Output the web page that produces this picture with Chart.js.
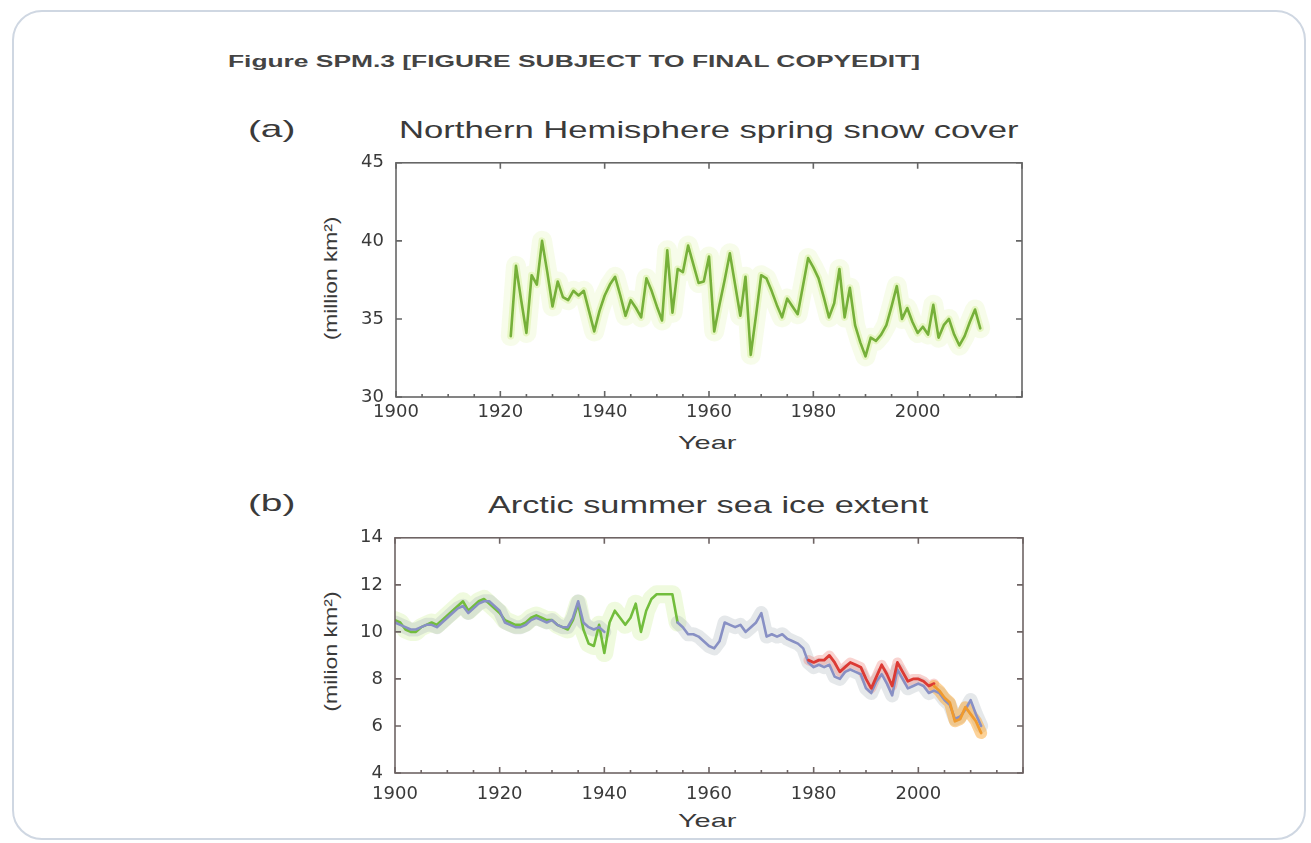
<!DOCTYPE html>
<html lang="en">
<head>
<meta charset="UTF-8">
<title>Figure SPM.3</title>
<script src="https://cdn.jsdelivr.net/npm/chart.js"></script>
<style>
    html, body {
        margin: 0;
        padding: 0;
        background: #fff;
        width: 1311px;
        height: 843px;
        overflow: hidden;
        font-family: "Liberation Sans", Arial, sans-serif;
        color: #3a3a3a;
    }
    .frame {
        position: absolute;
        left: 12px;
        top: 10px;
        width: 1290px;
        height: 826px;
        border: 2px solid #cfd7e2;
        border-radius: 30px;
    }
    .txt {
        position: absolute;
        white-space: nowrap;
        line-height: 1;
    }
    canvas {
        position: absolute;
    }
</style>
</head>
<body>
<div class="frame"></div>

<div class="txt" data-cx="574" data-cy="62" data-w="692" style="font-weight:bold;font-size:16px;color:#444">Figure SPM.3 [FIGURE SUBJECT TO FINAL COPYEDIT]</div>
<div class="txt" data-cx="271" data-cy="129" data-w="47" style="font-size:24px">(a)</div>
<div class="txt" data-cx="709" data-cy="130" data-w="620" style="font-size:24px">Northern Hemisphere spring snow cover</div>
<div class="txt" data-cx="330" data-cy="278" data-w="123" data-rot="1" style="font-size:19px">(million km²)</div>
<div class="txt" data-cx="707" data-cy="442" data-w="58" style="font-size:19px">Year</div>

<div class="txt" data-cx="271" data-cy="503" data-w="47" style="font-size:24px">(b)</div>
<div class="txt" data-cx="708" data-cy="505" data-w="440" style="font-size:24px">Arctic summer sea ice extent</div>
<div class="txt" data-cx="330" data-cy="651" data-w="120" data-rot="1" style="font-size:19px">(milion km²)</div>
<div class="txt" data-cx="707" data-cy="820" data-w="58" style="font-size:19px">Year</div>

<canvas id="snowChart" width="760" height="320" style="left:290px;top:140px"></canvas>
<canvas id="iceChart" width="760" height="320" style="left:290px;top:515px"></canvas>

<script>
    // tick labels
    const yearTicks = [1900, 1920, 1940, 1960, 1980, 2000];
    const snowTicks = [30, 35, 40, 45];
    const iceTicks = [4, 6, 8, 10, 12, 14];

    // (a) spring snow cover, one value per year from snowStart
    const snowStart = 1922;
    const snowCover = [
        33.9, 38.4, 36.2, 34.1, 37.8, 37.2, 40.0, 38.0, 35.8, 37.4,   // 1922-1931
        36.4, 36.2, 36.8, 36.5, 36.8, 35.5, 34.2, 35.5, 36.5, 37.2,   // 1932-1941
        37.7, 36.5, 35.2, 36.2, 35.7, 35.1, 37.6, 36.8, 35.8, 34.9,   // 1942-1951
        39.4, 35.4, 38.2, 38.0, 39.7, 38.5, 37.3, 37.4, 39.0, 34.2,   // 1952-1961
        35.9, 37.5, 39.2, 37.2, 35.2, 37.7, 32.7, 35.2, 37.8, 37.6,   // 1962-1971
        36.8, 35.9, 35.1, 36.3, 35.8, 35.3, 37.1, 38.9, 38.3, 37.6,   // 1972-1981
        36.4, 35.1, 36.0, 38.2, 35.1, 37.0, 34.6, 33.5, 32.6, 33.8,   // 1982-1991
        33.6, 34.0, 34.6, 35.8, 37.1, 35.0, 35.7, 34.8, 34.1, 34.5,   // 1992-2001
        34.0, 35.9, 33.8, 34.6, 35.0, 34.0, 33.3, 33.9, 34.8, 35.6,   // 2002-2011
        34.4                                                          // 2012
    ];

    // (b) sea ice extent, blue series 1900-2012 (gap where hidden under green)
    const blueStart = 1900;
    const iceBlue = [
        10.4, 10.3, 10.2, 10.1, 10.1, 10.2, 10.3, 10.3, 10.2, 10.4,   // 1900-1909
        10.6, 10.8, 11.0, 11.1, 10.8, 11.0, 11.2, 11.3, 11.3, 11.1,   // 1910-1919
        10.9, 10.4, 10.3, 10.2, 10.2, 10.3, 10.5, 10.6, 10.5, 10.4,   // 1920-1929
        10.5, 10.3, 10.2, 10.2, 10.6, 11.3, 10.4, 10.2, 10.1, 10.2,   // 1930-1939
        10.0, null, null, null, null, null, null, null, null, null,   // 1940-1949
        null, null, null, null, 10.4, 10.2, 9.9, 9.9, 9.8, 9.6,       // 1950-1959
        9.4, 9.3, 9.6, 10.4, 10.3, 10.2, 10.3, 10.0, 10.2, 10.4,      // 1960-1969
        10.8, 9.8, 9.9, 9.8, 9.9, 9.7, 9.6, 9.5, 9.3, 8.7,            // 1970-1979
        8.5, 8.6, 8.5, 8.6, 8.1, 8.0, 8.3, 8.4, 8.3, 8.2,             // 1980-1989
        7.6, 7.4, 7.9, 8.2, 7.8, 7.3, 8.4, 8.0, 7.6, 7.7,             // 1990-1999
        7.8, 7.7, 7.4, 7.5, 7.4, 7.1, 6.9, 6.3, 6.4, 6.7,             // 2000-2009
        7.1, 6.5, 6.0                                                 // 2010-2012
    ];

    const greenStart = 1900;
    const iceGreen = [
        10.5, 10.4, 10.1, 10.0, 10.0, 10.2, 10.3, 10.4, 10.3, 10.5,   // 1900-1909
        10.7, 10.9, 11.1, 11.3, 10.9, 11.1, 11.3, 11.4, 11.2, 11.0,   // 1910-1919
        10.8, 10.5, 10.4, 10.3, 10.3, 10.4, 10.6, 10.7, 10.6, 10.5,   // 1920-1929
        10.5, 10.3, 10.2, 10.1, 10.5, 11.2, 10.1, 9.5, 9.4, 10.3,     // 1930-1939
        9.1, 10.4, 10.9, 10.6, 10.3, 10.6, 11.2, 10.0, 10.9, 11.4,    // 1940-1949
        11.6, 11.6, 11.6, 11.6, 10.4                                  // 1950-1954
    ];

    const redStart = 1979;
    const iceRed = [
        8.8, 8.7, 8.8, 8.8, 9.0, 8.7, 8.3, 8.5, 8.7, 8.6,             // 1979-1988
        8.5, 8.0, 7.6, 8.1, 8.6, 8.2, 7.7, 8.7, 8.3, 7.9,             // 1989-1998
        8.0, 8.0, 7.9, 7.7, 7.8                                       // 1999-2003
    ];

    const orangeStart = 2003;
    const iceOrange = [7.7, 7.5, 7.2, 7.0, 6.2, 6.3, 6.8, 6.5, 6.2, 5.7];   // 2003-2012

    function toPoints(start, values) {
        return values.map((v, i) => ({ x: start + i, y: v }));
    }

    // stretch the html text to the widths in the figure
    document.querySelectorAll('.txt').forEach(el => {
        const cx = +el.dataset.cx, cy = +el.dataset.cy, w = +el.dataset.w;
        const w0 = el.offsetWidth, h0 = el.offsetHeight;
        el.style.left = (cx - w0 / 2) + 'px';
        el.style.top = (cy - h0 / 2) + 'px';
        const s = (w / w0).toFixed(3);
        el.style.transform = el.dataset.rot ? 'rotate(-90deg) scaleX(' + s + ')' : 'scaleX(' + s + ')';
    });

    // matlab style box with inward ticks
    const boxTicks = {
        id: 'boxTicks',
        afterDraw(chart, args, opts) {
            const { ctx, chartArea: a, scales: { x, y } } = chart;
            ctx.save();
            ctx.strokeStyle = opts.color;
            ctx.lineWidth = 1.6;
            ctx.strokeRect(a.left, a.top, a.width, a.height);
            ctx.beginPath();
            for (let v = x.min; v <= x.max; v += 5) {
                const px = x.getPixelForValue(v);
                const len = v % 20 === 0 ? 6 : 3;
                ctx.moveTo(px, a.bottom); ctx.lineTo(px, a.bottom - len);
                if (len === 6) { ctx.moveTo(px, a.top); ctx.lineTo(px, a.top + len); }
            }
            opts.yTicks.forEach(v => {
                const py = y.getPixelForValue(v);
                ctx.moveTo(a.left, py); ctx.lineTo(a.left + 6, py);
                ctx.moveTo(a.right, py); ctx.lineTo(a.right - 6, py);
            });
            ctx.stroke();
            ctx.restore();
        }
    };

    const tickFont = { family: 'DejaVu Sans', size: 18 };

    function makeOptions(yMin, yMax, yTicks, yWidth, xHeight, xPad, padTop, padRight, boxColor) {
        return {
            responsive: false,
            animation: false,
            layout: { padding: { top: padTop, right: padRight, left: 0, bottom: 0 } },
            plugins: {
                legend: { display: false },
                tooltip: { enabled: false },
                boxTicks: { yTicks: yTicks, color: boxColor }
            },
            elements: {
                point: { radius: 0 },
                line: { tension: 0, borderJoinStyle: 'round', borderCapStyle: 'round' }
            },
            scales: {
                x: {
                    type: 'linear',
                    min: 1900,
                    max: 2020,
                    grid: { display: false, drawTicks: false },
                    border: { display: false },
                    ticks: { color: '#3a3a3a', font: tickFont, padding: xPad, maxRotation: 0,
                             callback: v => String(v) },
                    afterBuildTicks: axis => { axis.ticks = yearTicks.map(v => ({ value: v })); },
                    afterFit: axis => { axis.height = xHeight; }
                },
                y: {
                    min: yMin,
                    max: yMax,
                    grid: { display: false, drawTicks: false },
                    border: { display: false },
                    ticks: { color: '#3a3a3a', font: tickFont, padding: 12,
                             callback: v => String(v) },
                    afterBuildTicks: axis => { axis.ticks = yTicks.map(v => ({ value: v })); },
                    afterFit: axis => { axis.width = yWidth; }
                }
            }
        };
    }

    function line(points, color, width, order) {
        return { data: points, borderColor: color, borderWidth: width, order: order, fill: false, spanGaps: false };
    }

    // (a) snow cover
    const snowPts = toPoints(snowStart, snowCover);
    new Chart(document.getElementById('snowChart'), {
        type: 'line',
        data: {
            datasets: [
                line(snowPts, '#76b03a', 2.6, 1),
                line(snowPts, 'rgba(200, 235, 120, 0.35)', 7, 9),
                line(snowPts, 'rgba(225, 245, 170, 0.25)', 20, 10)
            ]
        },
        options: makeOptions(30, 45, snowTicks, 106, 63, 5, 17, 28, '#666'),
        plugins: [boxTicks]
    });

    // (b) sea ice extent
    const bluePts = toPoints(blueStart, iceBlue);
    const greenPts = toPoints(greenStart, iceGreen);
    const redPts = toPoints(redStart, iceRed);
    const orangePts = toPoints(orangeStart, iceOrange);
    new Chart(document.getElementById('iceChart'), {
        type: 'line',
        data: {
            datasets: [
                line(orangePts, '#ef9a2e', 2.8, 1),
                line(redPts, '#dc3a34', 2.8, 2),
                line(bluePts, '#8890c4', 2.6, 3),
                line(greenPts, '#72bd3c', 2.6, 4),
                line(orangePts, 'rgba(250, 165, 50, 0.5)', 12, 10),
                line(redPts, 'rgba(235, 110, 100, 0.3)', 10, 11),
                line(bluePts, 'rgba(160, 172, 178, 0.28)', 14, 12),
                line(greenPts, 'rgba(210, 240, 160, 0.35)', 18, 13)
            ]
        },
        options: makeOptions(4, 14, iceTicks, 105, 62, 11, 18, 27, '#6e6464'),
        plugins: [boxTicks]
    });
</script>
</body>
</html>
